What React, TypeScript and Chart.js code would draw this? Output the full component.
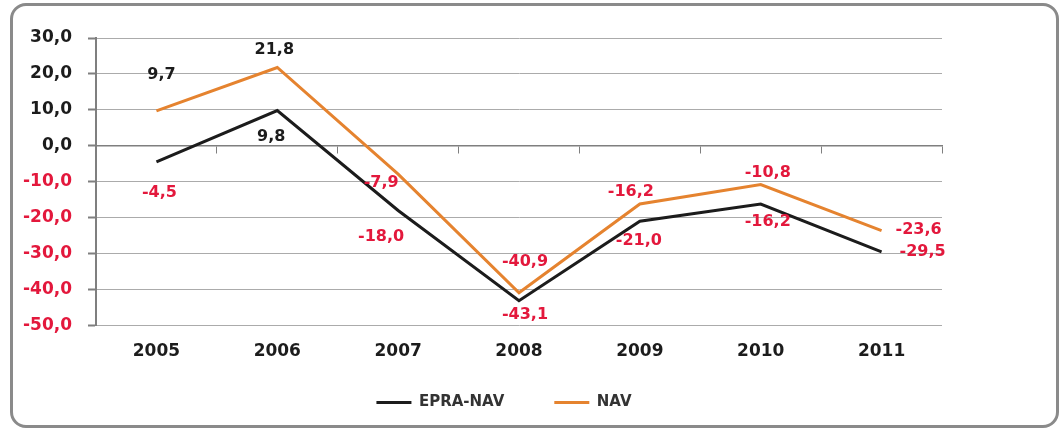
import React, { useEffect, useRef } from 'react';
import { Chart, registerables } from 'chart.js';

Chart.register(...registerables);

// ---- data ----
const categories = ['2005', '2006', '2007', '2008', '2009', '2010', '2011'];
const epraNavValues = [-4.5, 9.8, -18.0, -43.1, -21.0, -16.2, -29.5];
const navValues = [9.7, 21.8, -7.9, -40.9, -16.2, -10.8, -23.6];
const seriesNames = ['EPRA-NAV', 'NAV'];
const yMin = -50;
const yMax = 30;
const yStep = 10;

// ---- label placement (pixel offsets from each point) ----
const epraLabelOffsets = [[3, 31], [-6, 26], [-17, 26], [6, 14], [-1, 20], [7, 18], [41, 0]];
const navLabelOffsets = [[5, -36], [-3, -18], [-17, 9], [6, -31], [-9, -12], [7, -12], [37, -1]];

// ---- styles ----
const FONT = "'DejaVu Sans', sans-serif";
const BLACK = '#1c1c1c';
const ORANGE = '#E5832F';
const RED = '#E3183C';
const GRID = '#ababab';
const AXIS = '#7f7f7f';

const fmt = (v: number) => v.toFixed(1).replace('.', ',');

const labelPlugin = {
  id: 'pointLabels',
  afterDatasetsDraw(chart: any) {
    const ctx = chart.ctx;
    const offsets = [epraLabelOffsets, navLabelOffsets];
    ctx.save();
    ctx.font = `bold 16px ${FONT}`;
    ctx.textAlign = 'center';
    ctx.textBaseline = 'middle';
    chart.data.datasets.forEach((ds: any, di: number) => {
      const meta = chart.getDatasetMeta(di);
      meta.data.forEach((pt: any, i: number) => {
        const v = ds.data[i] as number;
        const [dx, dy] = offsets[di][i];
        ctx.fillStyle = v < 0 ? RED : BLACK;
        ctx.fillText(fmt(v), pt.x + dx, pt.y + dy);
      });
    });
    ctx.restore();
  },
};

export default function App() {
  const ref = useRef<HTMLCanvasElement | null>(null);

  useEffect(() => {
    if (!ref.current) return;
    const chart = new Chart(ref.current, {
      type: 'line',
      data: {
        labels: categories,
        datasets: [
          {
            label: seriesNames[0],
            data: epraNavValues,
            borderColor: BLACK,
            backgroundColor: BLACK,
            borderWidth: 3,
            pointRadius: 0,
            tension: 0,
          },
          {
            label: seriesNames[1],
            data: navValues,
            borderColor: ORANGE,
            backgroundColor: ORANGE,
            borderWidth: 3,
            pointRadius: 0,
            tension: 0,
          },
        ],
      },
      options: {
        responsive: false,
        animation: false,
        layout: { padding: { left: 20, right: 71, top: 38, bottom: 12 } },
        plugins: {
          tooltip: { enabled: false },
          legend: {
            position: 'bottom',
            labels: {
              boxWidth: 35,
              boxHeight: 0,
              padding: 50,
              color: '#333333',
              font: { family: FONT, size: 15, weight: 'bold' },
            },
          },
        },
        scales: {
          x: {
            type: 'category',
            position: 'bottom',
            offset: true,
            grid: { display: false, drawTicks: false },
            border: { display: false },
            ticks: { display: false },
            afterFit: (s: any) => {
              s.height = 19.5;
            },
          },
          x0: {
            type: 'category',
            position: { y: 0 },
            offset: true,
            grid: { drawOnChartArea: false, drawTicks: true, tickLength: 7, color: AXIS, offset: true },
            border: { display: true, color: AXIS, width: 1.5 },
            ticks: {
              color: BLACK,
              padding: 189,
              maxRotation: 0,
              autoSkip: false,
              font: { family: FONT, size: 17, weight: 'bold' },
            },
            afterFit: (s: any) => {
              s.paddingLeft = 0;
              s.paddingRight = 0;
              s.paddingTop = 0;
              s.paddingBottom = 0;
            },
          },
          y: {
            min: yMin,
            max: yMax,
            ticks: {
              stepSize: yStep,
              padding: 16,
              font: { family: FONT, size: 17, weight: 'bold' },
              color: (c: any) => (c.tick && c.tick.value < 0 ? RED : BLACK),
              callback: (v: any) => fmt(Number(v)),
            },
            grid: { color: GRID, lineWidth: 1, tickLength: 8, tickColor: AXIS, tickWidth: 2 },
            border: { display: true, color: AXIS, width: 2 },
            afterFit: (s: any) => {
              s.width = 76;
            },
          },
          yR: {
            type: 'linear',
            position: 'right',
            grid: { display: false, drawTicks: false },
            border: { display: false },
            ticks: { display: false },
            afterFit: (s: any) => {
              s.width = 46;
            },
          },
        },
      },
      plugins: [labelPlugin],
    } as any);
    return () => chart.destroy();
  }, []);

  return (
    <div style={{ position: 'fixed', left: 0, top: 0, width: 1059, height: 432, background: '#ffffff', overflow: 'hidden' }}>
      <div
        style={{
          position: 'absolute',
          left: 10,
          top: 3,
          width: 1049,
          height: 425,
          boxSizing: 'border-box',
          border: '3px solid #8a8a8a',
          borderRadius: 16,
        }}
      />
      <canvas ref={ref} width={1059} height={432} style={{ position: 'absolute', left: 0, top: 0, width: 1059, height: 432 }} />
    </div>
  );
}
